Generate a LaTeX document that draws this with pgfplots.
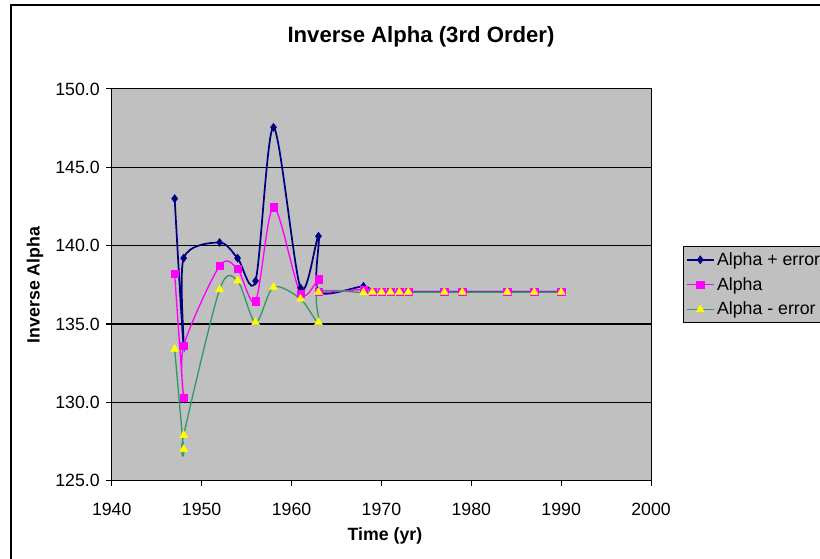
\documentclass[border=0pt]{standalone}
\usepackage{fontspec}
\setmainfont{Liberation Sans}
\usepackage{pgfplots}
\pgfplotsset{compat=1.18}
\definecolor{plotbg}{HTML}{C0C0C0}
\definecolor{navyline}{HTML}{000080}
\definecolor{pinkline}{HTML}{FF00FF}
\definecolor{seagreen}{HTML}{339966}
\definecolor{marky}{HTML}{FFFF00}
\newcommand{\chartfont}{\fontsize{13.3}{16}\selectfont}

\begin{document}
\begin{tikzpicture}
\useasboundingbox (0,0) rectangle (615pt,418.5pt);
\clip (0,0) rectangle (615pt,418.5pt);
% chart area border (runs off the right and bottom edges)
\draw[line width=1.1pt] (8.25pt,-5pt) -- (8.25pt,414.75pt) -- (630pt,414.75pt);

\begin{axis}[
  at={(83.8pt,58pt)}, anchor=south west,
  width=404.5pt, height=293.8pt, scale only axis,
  xmin=1940, xmax=2000, ymin=125, ymax=150,
  xtick={1940,1950,...,2000}, ytick={125,130,...,150},
  xtick pos=bottom, ytick pos=left,
  tick align=outside, major tick length=4pt,
  tick style={black, line width=0.8pt},
  axis line style={black, line width=0.8pt},
  axis background/.style={fill=plotbg},
  ymajorgrids, major grid style={black, line width=0.8pt},
  /pgf/number format/assume math mode=true,
  ticklabel style={font=\chartfont},
  xticklabel style={yshift=-9pt, /pgf/number format/set thousands separator={}},
  yticklabel style={xshift=-1.5pt, /pgf/number format/.cd, fixed, fixed zerofill, precision=1},
  legend style={at={(1.0593,0.5992)}, anchor=north west, fill=plotbg,
    draw=black, line width=0.6pt, font=\chartfont, row sep=3.5pt,
    inner xsep=2pt, inner ysep=2.5pt},
  legend cell align=left,
  legend image code/.code={
    \draw[mark repeat=2, mark phase=2] plot coordinates {(0cm,0cm) (0.35cm,0cm) (0.7cm,0cm)};},
  every axis plot/.append style={smooth, line width=1pt},
]
  \addplot[navyline, line width=1.3pt, mark=diamond*, mark size=3pt,
    mark options={fill=navyline, draw=navyline, line width=0.4pt}] coordinates {
    (1947,143.0) (1948,133.6) (1948,139.2) (1952,140.2) (1954,139.2)
    (1956,137.75) (1958,147.55) (1961,137.3) (1963,140.6) (1963,137.07)
    (1968,137.4) (1969,137.05) (1970,137.05) (1971,137.05) (1972,137.05)
    (1973,137.05) (1977,137.05) (1979,137.05) (1984,137.05) (1987,137.05)
    (1990,137.05)
  };
  \addlegendentry{Alpha + error}

  \addplot[pinkline, mark=square*, mark size=2.7pt,
    mark options={fill=pinkline, draw=pinkline, line width=0.4pt}] coordinates {
    (1947,138.2) (1948,130.3) (1948,133.6) (1952,138.7) (1954,138.5)
    (1956,136.45) (1958,142.45) (1961,136.95) (1963,137.85) (1963,137.05)
    (1968,137.2) (1969,137.04) (1970,137.04) (1971,137.04) (1972,137.04)
    (1973,137.04) (1977,137.04) (1979,137.04) (1984,137.04) (1987,137.04)
    (1990,137.04)
  };
  \addlegendentry{Alpha}

  \addplot[seagreen, mark=triangle*, mark size=3.4pt,
    mark options={fill=marky, draw=marky, line width=0.4pt}] coordinates {
    (1947,133.4) (1948,127.0) (1948,127.9) (1952,137.2) (1954,137.75)
    (1956,135.1) (1958,137.35) (1961,136.6) (1963,135.1) (1963,137.03)
    (1968,137.0) (1969,137.03) (1970,137.03) (1971,137.03) (1972,137.03)
    (1973,137.03) (1977,137.03) (1979,137.03) (1984,137.03) (1987,137.03)
    (1990,137.03)
  };
  \addlegendentry{Alpha - error}
\end{axis}

\node[font=\bfseries\fontsize{16.6}{20}\selectfont] at (315.75pt,390.75pt) {Inverse Alpha (3rd Order)};
\node[font=\bfseries\chartfont] at (288.75pt,16.5pt) {Time (yr)};
\node[font=\bfseries\chartfont, rotate=90] at (26.25pt,204.75pt) {Inverse Alpha};
\end{tikzpicture}
\end{document}
